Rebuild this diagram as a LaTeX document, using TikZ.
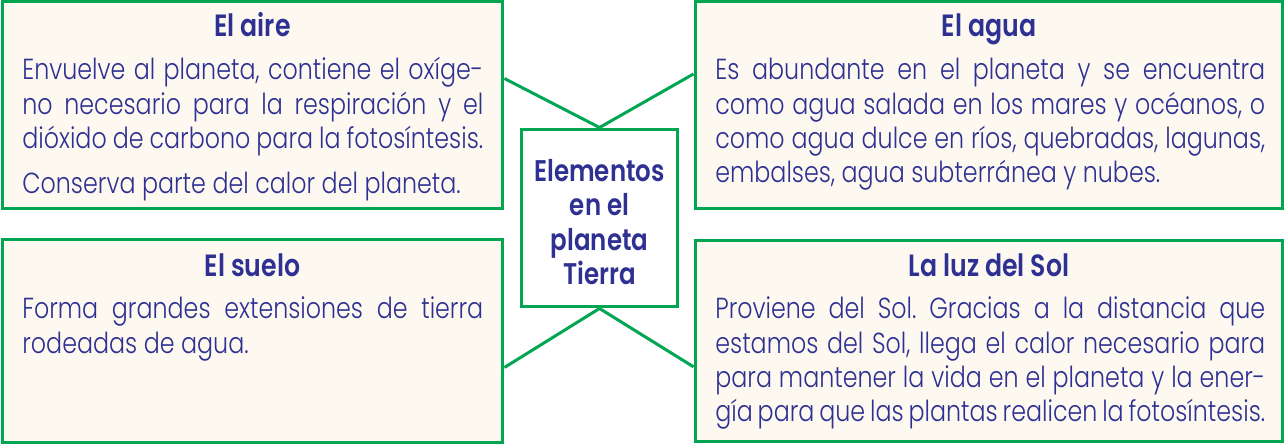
\documentclass[tikz,border=0pt]{standalone}
\usepackage{fontspec}
\setmainfont{Poppins}[FakeStretch=0.82, UprightFont=* Light, BoldFont=* SemiBold]
\usepackage{xcolor}
\definecolor{colorBorde}{HTML}{00A651}
\definecolor{colorTexto}{HTML}{2E3192}
\definecolor{colorFondo}{HTML}{FDF9F1}
\usetikzlibrary{positioning}
\tikzset{
  caja/.style={draw=colorBorde, line width=0.06cm, fill=colorFondo, inner sep=0pt},
  titulo/.style={text=colorTexto, font=\fontsize{17.5}{21}\selectfont\bfseries, anchor=base, inner sep=0pt},
  cuerpo/.style={text=colorTexto, font=\fontsize{16.5}{19.5}\selectfont\frenchspacing, anchor=base west, inner sep=0pt, align=justify},
  linea/.style={draw=colorBorde, line width=0.06cm}
}
\begin{document}
\begin{tikzpicture}[x=0.02cm, y=-0.02cm]
\useasboundingbox (0,0) rectangle (1285,445);
% cajas
\node[caja, minimum width=10.02cm, minimum height=4.16cm] (aire) at (252.5,105) {};
\node[caja, minimum width=11.76cm, minimum height=4.16cm] (agua) at (989,105) {};
\node[caja, minimum width=10.02cm, minimum height=4.08cm] (suelo) at (252.5,341) {};
\node[caja, minimum width=11.76cm, minimum height=4.04cm] (luz) at (989,341) {};
\node[caja, fill=white, minimum width=3.14cm, minimum height=3.56cm] (centro) at (599.5,218) {};
\node[align=center, text=colorTexto, inner sep=0pt, yshift=-0.08cm,
  font=\fontsize{17}{19.6}\selectfont\bfseries] (rotulo) at (centro.center) {Elementos\\en el\\planeta\\Tierra};
% conectores
\draw[linea] (aire.6.8) -- (centro.north) -- (agua.174.2);
\draw[linea] (suelo.-6.6) -- (centro.south) -- (luz.185.6);
% textos
\node[titulo] (tAire) at (252.5,37) {El aire};
\node[cuerpo, text width=9.22cm] (cAire) at (22,80) {\hyphenpenalty=10000
  Envuelve al planeta, contiene el oxíge-\linebreak no necesario para la respiración y el\linebreak
  dióxido de carbono para la fotosíntesis.\par\vskip6pt
  Conserva parte del calor del planeta.};
\node[titulo] (tAgua) at (989,37) {El agua};
\node[cuerpo, text width=11cm] (cAgua) at (715,80) {\hyphenpenalty=10000
  Es abundante en el planeta y se encuentra\linebreak como agua salada en los mares y océanos, o\linebreak
  como agua dulce en ríos, quebradas, lagunas,\linebreak embalses, agua subterránea y nubes.};
\node[titulo] (tSuelo) at (252.5,277) {El suelo};
\node[cuerpo, text width=9.22cm] (cSuelo) at (22,319) {\hyphenpenalty=10000
  Forma grandes extensiones de tierra\linebreak rodeadas de agua.};
\node[titulo] (tLuz) at (989,277) {La luz del Sol};
\node[cuerpo, text width=11cm] (cLuz) at (715,319) {\hyphenpenalty=10000
  Proviene del Sol. Gracias a la distancia que\linebreak estamos del Sol, llega el calor necesario para\linebreak
  para mantener la vida en el planeta y la ener-\linebreak gía para que las plantas realicen la fotosíntesis.};
\end{tikzpicture}
\end{document}
